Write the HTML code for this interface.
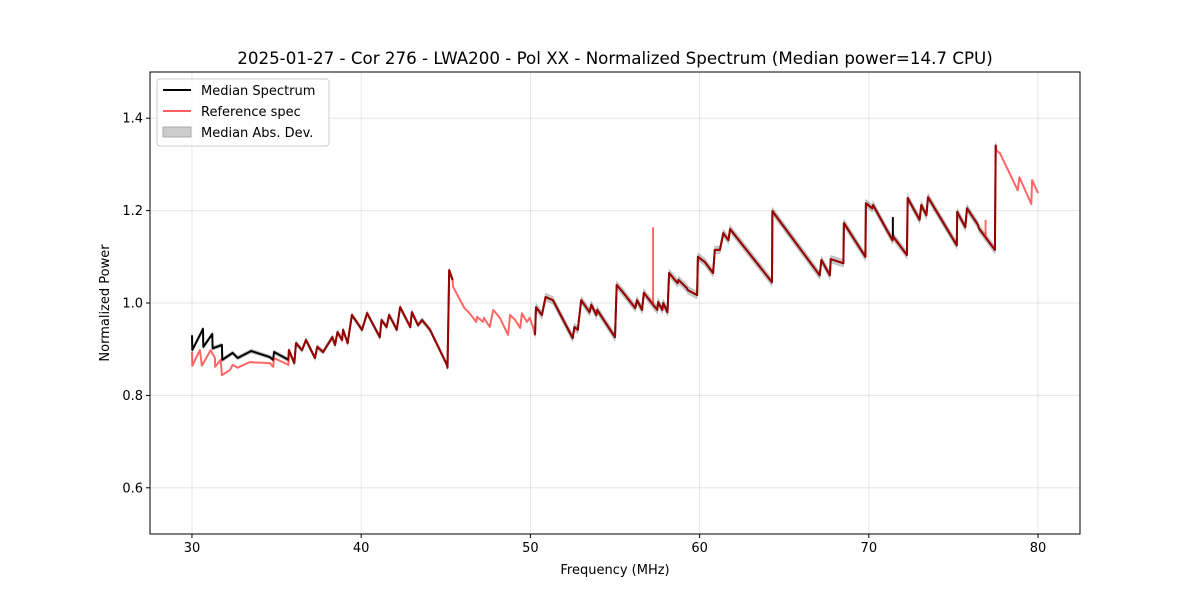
<!DOCTYPE html>
<html><head><meta charset="utf-8"><style>
body{margin:0;background:#fff;}
svg text{font-family:"DejaVu Sans","Liberation Sans",sans-serif;}
</style></head><body>
<svg id="chart" width="1200" height="600" xmlns="http://www.w3.org/2000/svg">
<rect width="1200" height="600" fill="#fff"/>
<g id="grid"></g>
<g id="band"></g>
<g id="lines"></g>
<rect x="150" y="72" width="930" height="462" fill="none" stroke="#000" stroke-width="1"/>
<g id="ticks"></g>
<text x="615" y="64" text-anchor="middle" font-size="16.7">2025-01-27 - Cor 276 - LWA200 - Pol XX - Normalized Spectrum (Median power=14.7 CPU)</text>
<text x="615" y="574" text-anchor="middle" font-size="13">Frequency (MHz)</text>
<text x="109" y="303" text-anchor="middle" font-size="13" transform="rotate(-90 109 303)">Normalized Power</text>
<g>
<rect x="157" y="79" width="172" height="67" rx="3" fill="#fff" fill-opacity="0.8" stroke="#ccc"/>
<line x1="163" y1="90" x2="191" y2="90" stroke="#000" stroke-width="2"/>
<text x="201" y="95" font-size="13">Median Spectrum</text>
<line x1="163" y1="111" x2="191" y2="111" stroke="#ff5c5c" stroke-width="2"/>
<text x="201" y="116" font-size="13">Reference spec</text>
<rect x="163" y="127" width="28" height="10" fill="#ccc" stroke="#aaa"/>
<text x="201" y="137" font-size="13">Median Abs. Dev.</text>
</g>
</svg>
<script>
const xTicks=[30,40,50,60,70,80];
const yTicks=[0.6,0.8,1.0,1.2,1.4];
const yTickLabels=["0.6","0.8","1.0","1.2","1.4"];
const lowBlackF=[30,30.02,30.65,30.67,31.2,31.22,31.77,31.79,32.4,32.7,33.5,34.6,34.8,34.85,35.7];
const lowBlackV=[0.93,0.898,0.944,0.905,0.933,0.902,0.909,0.877,0.892,0.881,0.896,0.883,0.877,0.894,0.877];
const lowRedF=[30,30.02,30.47,30.59,31.1,31.36,31.37,31.7,31.77,32.25,32.4,32.7,33.4,34.6,34.8,34.85,35.7];
const lowRedV=[0.894,0.864,0.898,0.864,0.898,0.881,0.862,0.877,0.844,0.855,0.866,0.86,0.872,0.87,0.862,0.881,0.866];
const segAF=[35.73,36.05,36.1,36.15,36.5,36.74,37.27,37.4,37.75,38.3,38.45,38.6,38.87,38.93,39.2,39.45,40.05,40.35,41.1,41.2,41.5,41.65,41.9,42.1,42.3,42.9,43.0,43.36,43.6,44.07,45.07,45.1,45.2,45.4];
const segAV=[0.898,0.87,0.892,0.913,0.898,0.92,0.881,0.905,0.894,0.926,0.909,0.937,0.92,0.942,0.913,0.974,0.942,0.978,0.926,0.963,0.948,0.974,0.957,0.942,0.991,0.948,0.98,0.952,0.963,0.942,0.866,0.86,1.071,1.05];
const segCF=[45.43,46.1,46.4,46.8,46.85,47.2,47.25,47.6,47.8,48.2,48.68,48.8,49.1,49.4,49.5,49.8,49.96,50.15];
const segCV=[1.035,0.989,0.978,0.959,0.97,0.959,0.968,0.948,0.985,0.968,0.931,0.974,0.963,0.946,0.978,0.959,0.968,0.948];
const segBF=[50.27,50.33,50.68,50.9,51.33,52.5,52.6,52.8,53.0,53.5,53.6,53.9,53.95,55.0,55.1,55.45,56.2,56.3,56.6,56.7,57.25,57.5,57.55,57.8,57.85,58.1,58.2,58.7,58.75,59.25,59.3,59.85,59.9,60.3,60.8,60.9,61.2,61.4,61.7,61.8,64.28,64.3,67.1,67.2,67.7,67.75,68.5,68.53,69.8,69.83,70.2,70.25,71.4,71.45,72.25,72.3,73.0,73.1,73.4,73.5,75.2,75.22,75.7,75.8,76.45,76.5,77.45,77.5];
const segBV=[0.931,0.991,0.974,1.013,1.006,0.924,0.948,0.942,1.006,0.98,0.996,0.974,0.985,0.926,1.039,1.024,0.989,1.006,0.985,1.022,0.996,0.985,1.002,0.985,1.0,0.98,1.065,1.043,1.05,1.032,1.028,1.017,1.1,1.089,1.065,1.115,1.115,1.151,1.136,1.16,1.045,1.199,1.06,1.093,1.06,1.095,1.086,1.173,1.1,1.216,1.205,1.212,1.136,1.143,1.104,1.227,1.18,1.212,1.19,1.229,1.125,1.197,1.164,1.205,1.169,1.162,1.115,1.342];
const segDF=[77.55,77.75,78.8,78.9,79.6,79.65,80.0];
const segDV=[1.33,1.324,1.244,1.272,1.214,1.266,1.238];
const madSeg=[0.004,0.005,0.008];
const refSpikeF=[57.25,76.9];
const refSpikeV=[1.164,1.18];
const medSpikeF=[71.42];
const medSpikeV=[1.186];

const L=150,R=1080,T=72,B=534,xMin=27.52,xMax=82.48,yMin=0.5,yMax=1.5;
const X=f=>L+(f-xMin)/(xMax-xMin)*(R-L);
const Y=v=>B-(v-yMin)/(yMax-yMin)*(B-T);
const NS="http://www.w3.org/2000/svg";
function mk(tag,attrs,parent){const e=document.createElementNS(NS,tag);for(const k in attrs)e.setAttribute(k,attrs[k]);parent.appendChild(e);return e;}
const grid=document.getElementById('grid'),ticks=document.getElementById('ticks'),band=document.getElementById('band'),lines=document.getElementById('lines');
xTicks.forEach(t=>{
  let g=mk('line',{x1:X(t),x2:X(t),y1:T,y2:B,stroke:'#000','stroke-opacity':0.1},grid);
  
  
  let tk=mk('line',{x1:X(t),x2:X(t),y1:B,y2:B+4,stroke:'#000'},ticks);
  
  
  let tx=mk('text',{x:X(t),y:B+18,'text-anchor':'middle','font-size':13},ticks);
  tx.textContent=String(t);
  
  
});
yTicks.forEach((t,i)=>{
  let g=mk('line',{x1:L,x2:R,y1:Y(t),y2:Y(t),stroke:'#000','stroke-opacity':0.1},grid);
  
  
  let tk=mk('line',{x1:L-4,x2:L,y1:Y(t),y2:Y(t),stroke:'#000'},ticks);
  
  
  let tx=mk('text',{x:L-7,y:Y(t)+4.5,'text-anchor':'end','font-size':13},ticks);
  tx.textContent=yTickLabels[i];
  
  
});
function pathOf(F,V){return F.map((f,i)=>(i?'L':'M')+X(f).toFixed(1)+','+Y(V[i]).toFixed(1)).join('');}
function bandOf(F,V,m){let up=F.map((f,i)=>X(f).toFixed(1)+','+Y(V[i]+m).toFixed(1));let dn=F.map((f,i)=>X(f).toFixed(1)+','+Y(V[i]-m).toFixed(1)).reverse();return 'M'+up.join('L')+'L'+dn.join('L')+'Z';}
[[lowBlackF,lowBlackV,madSeg[0]],[segAF,segAV,madSeg[1]],[segBF,segBV,madSeg[2]]].forEach(s=>{
  let p=mk('path',{d:bandOf(s[0],s[1],s[2]),fill:'#000','fill-opacity':0.2,stroke:'#000','stroke-opacity':0.15},band);
  
  
});
function interp(F,V,f){for(let i=1;i<F.length;i++){if(F[i]>=f){const t=(f-F[i-1])/(F[i]-F[i-1]);return V[i-1]+t*(V[i]-V[i-1]);}}return V[V.length-1];}
const medF1=lowBlackF.concat(segAF),medV1=lowBlackV.concat(segAV);
let m1=mk('path',{d:pathOf(medF1,medV1)+pathOf(segBF,segBV),fill:'none',stroke:'#000','stroke-width':2,'stroke-linejoin':'round'},lines);


medSpikeF.forEach((f,i)=>{
  let s=mk('line',{x1:X(f),x2:X(f),y1:Y(interp(segBF,segBV,f)),y2:Y(medSpikeV[i]),stroke:'#000','stroke-width':2},lines);
  
  
});
const refF=lowRedF.concat(segAF,segCF,segBF,segDF),refV=lowRedV.concat(segAV,segCV,segBV,segDV);
let r1=mk('path',{d:pathOf(refF,refV),fill:'none',stroke:'#ff0000','stroke-opacity':0.6,'stroke-width':2,'stroke-linejoin':'round'},lines);


refSpikeF.forEach((f,i)=>{
  let s=mk('line',{x1:X(f),x2:X(f),y1:Y(interp(refF,refV,f)),y2:Y(refSpikeV[i]),stroke:'#ff0000','stroke-opacity':0.6,'stroke-width':2},lines);
  
  
});
</script>
</body></html>
